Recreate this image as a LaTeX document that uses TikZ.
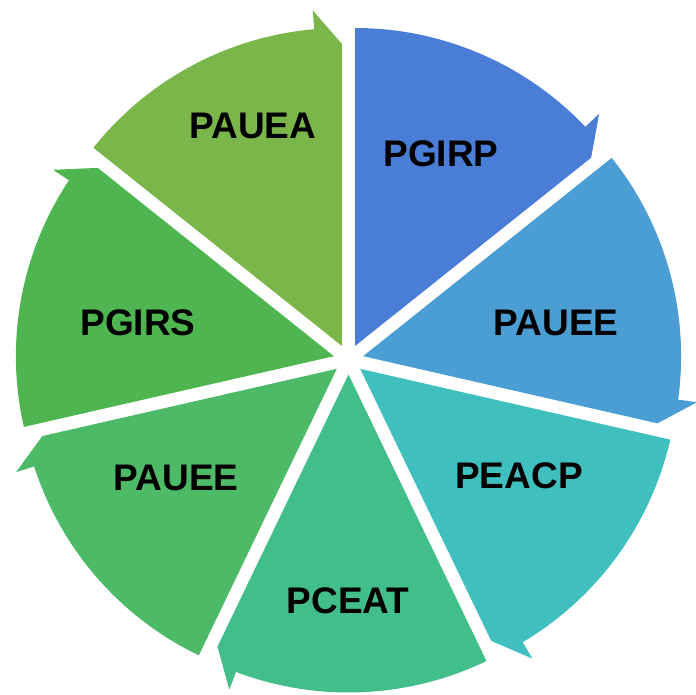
\documentclass[tikz,border=0pt]{standalone}
\usepackage{fontspec}
\setmainfont{Liberation Sans}
\usetikzlibrary{positioning}

\definecolor{segA}{HTML}{4A7DD6}
\definecolor{segB}{HTML}{4A9ED4}
\definecolor{segC}{HTML}{3FC0BE}
\definecolor{segD}{HTML}{42BE8A}
\definecolor{segE}{HTML}{4DBA68}
\definecolor{segF}{HTML}{4FB550}
\definecolor{segG}{HTML}{7BB64A}

\tikzset{
  seglabel/.style={anchor=center, inner sep=0pt, font=\fontsize{37}{44}\selectfont\bfseries}
}

\begin{document}
\begin{tikzpicture}[x=1pt, y=-1pt, line join=round]

  %% ════ canvas ════
  \path[use as bounding box] (0,0) rectangle (696,694);
  \coordinate (ctr) at (348.5,359.5);

  %% ════ wedges: 7 x 51.43 deg, clockwise from the top, each pushed out 15 along its bisector ════
  %% arrow end: barb 19 outside the arc, 5 deg before the end edge; tip 16 inside on the end edge
  \foreach \i/\col in {0/segA, 1/segB, 2/segC, 3/segD, 4/segE, 5/segF, 6/segG}{
    \pgfmathsetmacro{\as}{-90+51.42857*\i}
    \pgfmathsetmacro{\ae}{\as+51.42857}
    \pgfmathsetmacro{\am}{\as+25.71429}
    \pgfmathsetmacro{\ab}{\ae-5}
    \coordinate (ap\i) at ([shift={(\am:15)}]ctr);
    \fill[\col] (ap\i) -- ([shift={(\as:318)}]ap\i)
      arc[start angle=\as, end angle=\ab, radius=318]
      -- ([shift={(\ab:337)}]ap\i) -- ([shift={(\ae:302)}]ap\i) -- cycle;
  }

  %% ════ labels ════
  \node[seglabel] (pgirp) at (441,154) {PGIRP};
  \node[seglabel] (paueeR) at (556,323) {PAUEE};
  \node[seglabel] (peacp) at (519,476) {PEACP};
  \node[seglabel] (pceat) at (348,601) {PCEAT};
  \node[seglabel] (paueeL) at (176,478) {PAUEE};
  \node[seglabel] (pgirs) at (138,323) {PGIRS};
  \node[seglabel] (pauea) at (253,126) {PAUEA};

\end{tikzpicture}
\end{document}
